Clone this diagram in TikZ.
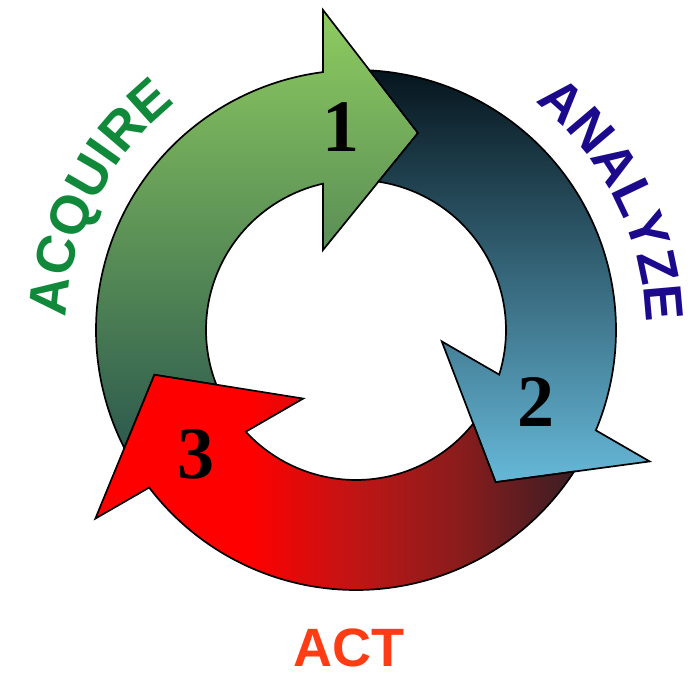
\documentclass[tikz,border=0pt]{standalone}
\usepackage{fontspec}
\newfontfamily\lsans{Liberation Sans}
\newfontfamily\lserif{Liberation Serif}
\usetikzlibrary{decorations.text}
\definecolor{grtop}{HTML}{8FCC60}
\definecolor{grmid}{HTML}{6CA25C}
\definecolor{grbot}{HTML}{2D5A4E}
\definecolor{bltop}{HTML}{06151D}
\definecolor{blmid}{HTML}{2B6B86}
\definecolor{blbot}{HTML}{66B8D8}
\definecolor{rdleft}{HTML}{FF0000}
\definecolor{rdmid}{HTML}{C01515}
\definecolor{rddark}{HTML}{8A1C1C}
\definecolor{rdright}{HTML}{3A1E24}
\definecolor{acqcol}{HTML}{10893A}
\definecolor{anacol}{HTML}{1C0A8C}
\definecolor{actcol}{HTML}{FF3C14}
\pgfdeclarehorizontalshading{redshade}{100bp}{color(0bp)=(rdleft); color(25bp)=(rdleft); color(41bp)=(rdleft); color(52bp)=(rdmid); color(63bp)=(rddark); color(75bp)=(rdright); color(100bp)=(rdright)}
\tikzset{
  arrowshape/.style={draw=black, line width=1.7pt, line join=miter},
  numlabel/.style={font=\lserif\bfseries\fontsize{74}{80}\selectfont, inner sep=0pt},
  wordlabel/.style={font=\lsans\bfseries\fontsize{54}{60}\selectfont, inner sep=0pt}
}
\def\arrowpath{(207:260) arc[start angle=207,end angle=97.3,radius=260] -- (-33,320) -- (62,197) -- (-33,80) -- (102.7:150) arc[start angle=102.7,end angle=201.4,radius=150] -- (-201.6,-44.8) -- cycle}
\begin{document}
\begin{tikzpicture}[x=1pt,y=1pt]
\useasboundingbox (0,0) rectangle (693,674);
\begin{scope}[shift={(356,344)}]
  % green arrow (1)
  \draw[arrowshape, top color=grtop, middle color=grmid, bottom color=grbot] \arrowpath;
  % blue arrow (2)
  \begin{scope}[rotate=-120]
    \draw[arrowshape, top color=bltop, middle color=blmid, bottom color=blbot] \arrowpath;
  \end{scope}
  % red arrow (3)
  \begin{scope}[rotate=120]
    \draw[arrowshape, shading=redshade] \arrowpath;
  \end{scope}
  % curved words
  \path[decorate, decoration={text along path, text align=center, text color=acqcol,
        text={|\lsans\bfseries\fontsize{54}{60}\selectfont|ACQUIRE}}]
        (186:290) arc[start angle=186, end angle=120, radius=290];
  \path[decorate, decoration={text along path, text align=center, text color=anacol,
        text={|\lsans\bfseries\fontsize{54}{60}\selectfont|ANALYZE}}]
        (60:290) arc[start angle=60, end angle=-6.6, radius=290];
\end{scope}
\node[numlabel] (n1) at (341,547) {1};
\node[numlabel] (n2) at (536,272) {2};
\node[numlabel] (n3) at (196,220) {3};
\node[wordlabel, text=actcol] (act) at (349,26) {ACT};
\end{tikzpicture}
\end{document}
